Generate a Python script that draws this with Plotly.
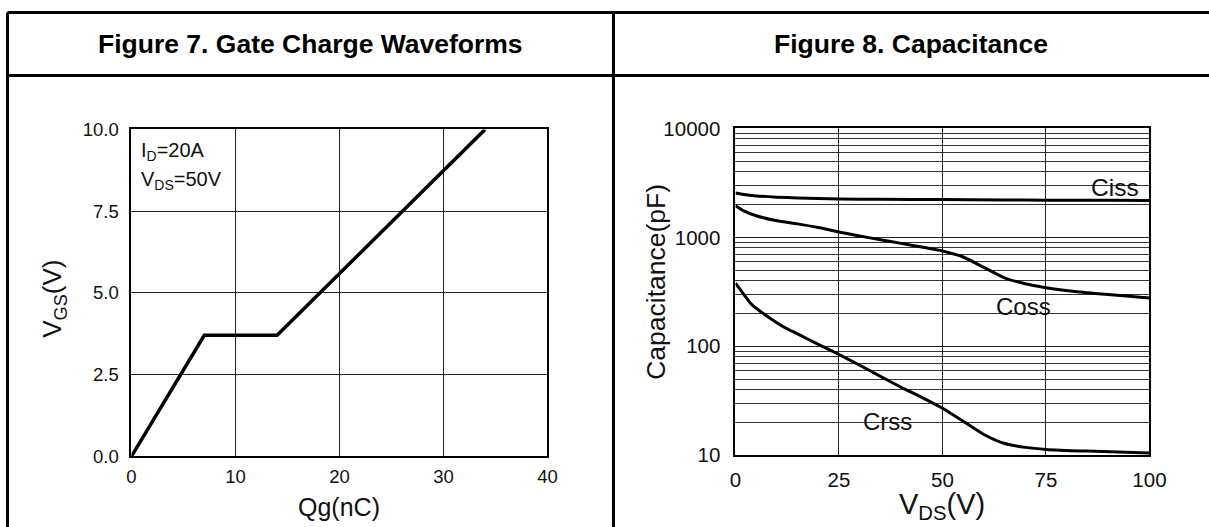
import plotly.graph_objects as go

# ---------------- data ----------------
qg = [0, 7, 14, 34]
vgs = [0, 3.7, 3.7, 10.0]

vds_ciss = [0, 2, 5, 10, 15, 20, 25, 35, 50, 65, 75, 90, 100]
ciss = [2550, 2470, 2400, 2340, 2300, 2270, 2250, 2235, 2220, 2205, 2195, 2185, 2180]

vds_coss = [0, 2, 5, 10, 15, 20, 25, 30, 35, 40, 45, 50, 55, 60, 65, 70, 75, 85, 100]
coss = [1950, 1750, 1580, 1420, 1330, 1230, 1120, 1030, 950, 880, 815, 750, 660, 530, 425, 375, 345, 310, 278]

vds_crss = [0, 2, 4, 8, 12, 15, 20, 25, 30, 35, 40, 45, 50, 55, 60, 65, 70, 75, 85, 100]
crss = [380, 300, 240, 185, 148, 130, 104, 84, 67, 53, 42, 34, 27, 20.5, 15.5, 12.8, 11.8, 11.3, 10.9, 10.5]

left_xticks = [0, 10, 20, 30, 40]
left_yticks = [0.0, 2.5, 5.0, 7.5, 10.0]
right_xticks = [0, 25, 50, 75, 100]
right_yticks = [10, 100, 1000, 10000]
minor_caps = [m * d for d in (10, 100, 1000) for m in range(2, 10)]

W, H = 1209, 527
FONT = "Liberation Sans, Arial, sans-serif"

# the photographed page is slightly rescaled; place things by target pixel
SX, OX = 0.981, 5.5
SY, OY = 0.957, 10.5


def px(x):
    return ((x - OX) / SX) / W


def py(y):
    return 1 - ((y - OY) / SY) / H


fig = go.Figure()

fig.add_trace(go.Scatter(x=qg, y=vgs, mode="lines", line=dict(color="black", width=3.5),
                         xaxis="x", yaxis="y", showlegend=False, hoverinfo="skip"))
for xs, ys in ((vds_ciss, ciss), (vds_coss, coss), (vds_crss, crss)):
    fig.add_trace(go.Scatter(x=xs, y=ys, mode="lines", line=dict(color="black", width=3, shape="spline", smoothing=0.6),
                             xaxis="x2", yaxis="y2", showlegend=False, hoverinfo="skip"))

axis_common = dict(showline=True, linecolor="black", linewidth=2, mirror=True,
                   showgrid=True, gridcolor="#222", gridwidth=1, zeroline=False,
                   ticks="", tickfont=dict(family=FONT, color="#111"))

fig.update_layout(
    width=W, height=H,
    margin=dict(l=0, r=0, t=0, b=0),
    paper_bgcolor="white", plot_bgcolor="white",
    font=dict(family=FONT, color="#111"),
    xaxis=dict(**axis_common, domain=[px(131), px(547)], range=[0, 40],
               tickmode="array", tickvals=left_xticks, ticktext=[str(v) for v in left_xticks],
               anchor="y", ticklabelstandoff=3),
    yaxis=dict(**axis_common, domain=[py(455), py(128)], range=[0, 10],
               tickmode="array", tickvals=left_yticks, ticktext=["%.1f" % v for v in left_yticks],
               anchor="x", ticklabelstandoff=7),
    xaxis2=dict(**axis_common, domain=[px(735), px(1149)], range=[0, 100],
                tickmode="array", tickvals=right_xticks, ticktext=[str(v) for v in right_xticks],
                anchor="y2", ticklabelstandoff=5),
    yaxis2=dict(**axis_common, domain=[py(454), py(127)], type="log", range=[1, 4],
                tickmode="array", tickvals=right_yticks, ticktext=[str(v) for v in right_yticks],
                anchor="x2", ticklabelstandoff=9,
                minor=dict(tickmode="array", tickvals=minor_caps, showgrid=True,
                           gridcolor="#333", gridwidth=0.8, ticks="")),
)
fig.update_xaxes(tickfont_size=18.5, selector=dict(anchor="y"))
fig.update_yaxes(tickfont_size=18.5, selector=dict(anchor="x"))
fig.update_xaxes(tickfont_size=20.5, selector=dict(anchor="y2"))
fig.update_yaxes(tickfont_size=20.5, selector=dict(anchor="x2"))

# table frame
line = dict(color="black", width=3)
fig.add_shape(type="line", xref="paper", yref="paper", x0=px(7), x1=1.05, y0=py(11), y1=py(11), line=line)
fig.add_shape(type="line", xref="paper", yref="paper", x0=px(7), x1=1.05, y0=py(74), y1=py(74), line=line)
fig.add_shape(type="line", xref="paper", yref="paper", x0=px(7), x1=px(7), y0=py(11), y1=-0.05, line=line)
fig.add_shape(type="line", xref="paper", yref="paper", x0=px(613), x1=px(613), y0=py(11), y1=-0.05, line=line)

ann = []
ann.append(dict(text="<b>Figure 7. Gate Charge Waveforms</b>", x=px(310), y=py(43), xanchor="center", yanchor="middle",
                font=dict(size=26.5, family=FONT, color="black")))
ann.append(dict(text="<b>Figure 8. Capacitance</b>", x=px(911), y=py(43), xanchor="center", yanchor="middle",
                font=dict(size=26.5, family=FONT, color="black")))
ann.append(dict(text="V<sub>GS</sub>(V)", x=px(53), y=py(297), textangle=-90, xanchor="center", yanchor="middle",
                font=dict(size=26, family=FONT, color="#111")))
ann.append(dict(text="Qg(nC)", x=px(339), y=py(506), xanchor="center", yanchor="middle",
                font=dict(size=25, family=FONT, color="#111")))
ann.append(dict(text="Capacitance(pF)", x=px(656), y=py(280), textangle=-90, xanchor="center", yanchor="middle",
                font=dict(size=26.5, family=FONT, color="#111")))
ann.append(dict(text="V<sub>DS</sub>(V)", x=px(942), y=py(505), xanchor="center", yanchor="middle",
                font=dict(size=29, family=FONT, color="#111")))
ann.append(dict(text="I<sub>D</sub>=20A", x=px(139), y=py(150), xanchor="left", yanchor="middle",
                font=dict(size=20, family=FONT, color="#111")))
ann.append(dict(text="V<sub>DS</sub>=50V", x=px(139), y=py(179), xanchor="left", yanchor="middle",
                font=dict(size=20, family=FONT, color="#111")))
ann.append(dict(text="Ciss", x=px(1141), y=py(186), xanchor="right", yanchor="middle",
                font=dict(size=24.5, family=FONT, color="#111")))
ann.append(dict(text="Coss", x=px(1023), y=py(305), xanchor="center", yanchor="middle",
                font=dict(size=24, family=FONT, color="#111")))
ann.append(dict(text="Crss", x=px(887), y=py(420), xanchor="center", yanchor="middle",
                font=dict(size=24, family=FONT, color="#111")))
for a in ann:
    a.update(xref="paper", yref="paper", showarrow=False)
fig.update_layout(annotations=ann)

fig.write_html(
    "out.html",
    config={"displayModeBar": False},
    post_script="document.body.style.margin='0';document.body.style.padding='0';"
                "document.documentElement.style.overflow='hidden';",
)
